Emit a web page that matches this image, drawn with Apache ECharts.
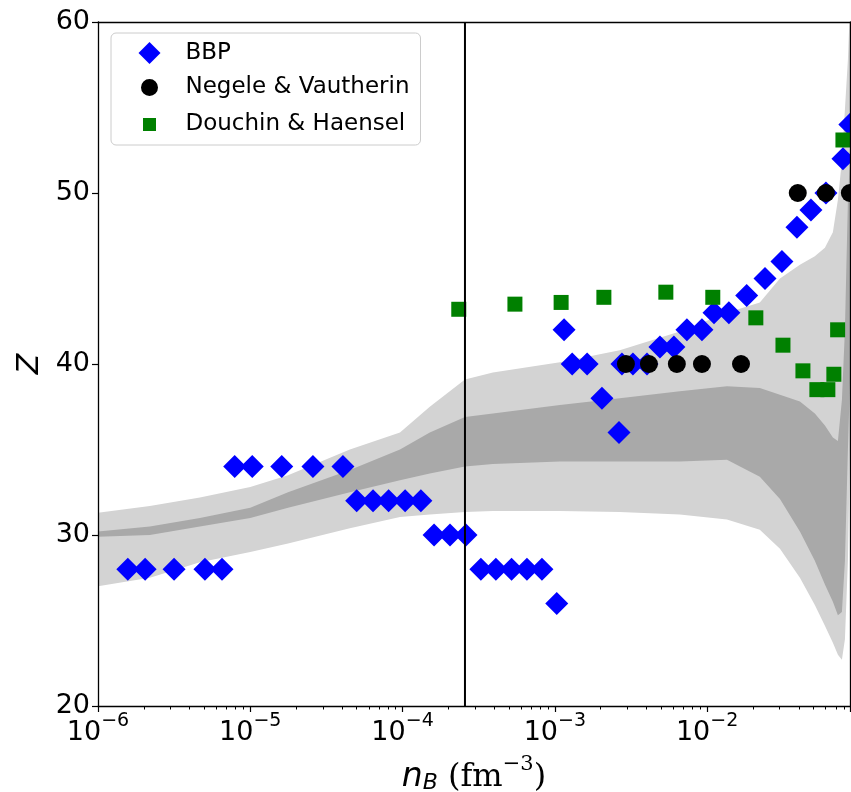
<!DOCTYPE html>
<html lang="en">
<head>
<meta charset="UTF-8">
<title>Z vs n_B</title>
<script src="https://cdn.jsdelivr.net/npm/echarts@6.0.0/dist/echarts.min.js"></script>
<style>
    html, body {margin: 0; padding: 0; background: #fff;}
    #chart {width: 851px; height: 792px;}
</style>
</head>
<body>
<div id="chart"></div>
<script>
    // BBP (blue diamonds)
    const bbpX = [1.57e-6, 2.04e-6, 3.16e-6, 5.04e-6, 6.52e-6,
        7.9e-6, 1.03e-5, 1.61e-5, 2.58e-5, 4.06e-5,
        5.0e-5, 6.4e-5, 8.1e-5, 1.04e-4, 1.32e-4,
        1.61e-4, 2.05e-4, 2.61e-4,
        3.27e-4, 4.1e-4, 5.2e-4, 6.56e-4, 8.23e-4,
        1.03e-3, 1.15e-3, 1.30e-3, 1.63e-3, 2.04e-3, 2.64e-3,
        2.76e-3, 3.26e-3, 4.03e-3, 4.9e-3, 6.05e-3, 7.37e-3, 9.25e-3,
        1.11e-2, 1.39e-2, 1.82e-2, 2.4e-2, 3.1e-2, 3.89e-2, 4.81e-2, 6.03e-2, 7.8e-2, 8.66e-2];
    const bbpZ = [28, 28, 28, 28, 28,
        34, 34, 34, 34, 34,
        32, 32, 32, 32, 32,
        30, 30, 30,
        28, 28, 28, 28, 28,
        26, 42, 40, 40, 38, 36,
        40, 40, 40, 41, 41, 42, 42,
        43, 43, 44, 45, 46, 48, 49, 50, 52, 54];

    // Negele & Vautherin (black circles)
    const nvX = [2.93e-3, 4.15e-3, 6.33e-3, 9.25e-3, 1.67e-2, 3.94e-2, 6.03e-2, 8.66e-2];
    const nvZ = [40, 40, 40, 40, 40, 50, 50, 50];

    // Douchin & Haensel (green squares)
    const dhX = [2.34e-4, 5.47e-4, 1.10e-3, 2.1e-3, 5.36e-3, 1.09e-2, 2.09e-2,
        3.15e-2, 4.26e-2, 5.26e-2, 6.21e-2, 6.8e-2, 7.2e-2, 7.8e-2];
    const dhZ = [43.2, 43.5, 43.6, 43.9, 44.2, 43.9, 42.7,
        41.1, 39.6, 38.5, 38.5, 39.4, 42.0, 53.1];

    // uncertainty bands
    const bandX = [1e-6, 2.19e-6, 4.67e-6, 1.0e-5, 1.77e-5, 4.51e-5, 9.62e-5, 1.51e-4, 2.57e-4,
        3.92e-4, 1.08e-3, 2.67e-3, 6.62e-3, 1.35e-2, 2.22e-2, 3.01e-2, 4.07e-2, 5.1e-2,
        5.94e-2, 6.7e-2, 7.23e-2, 7.68e-2, 8.04e-2, 8.41e-2, 8.68e-2];
    const outerHi = [31.3, 31.7, 32.2, 32.8, 33.5, 35.0, 36.0, 37.5, 39.1,
        39.5, 40.1, 40.8, 41.9, 43.0, 43.6, 45.0, 45.8, 46.3,
        46.8, 47.7, 49.6, 51.9, 54.9, 57.8, 61];
    const innerHi = [30.2, 30.5, 31.0, 31.6, 32.5, 33.8, 35.0, 36.0, 36.9,
        37.1, 37.6, 38.0, 38.4, 38.7, 38.6, 38.2, 37.8, 37.1,
        36.4, 35.7, 35.5, 37.9, 42.0, 49.6, 52];
    const innerLo = [29.9, 30.0, 30.5, 31.0, 31.6, 32.5, 33.2, 33.6, 34.0,
        34.15, 34.3, 34.3, 34.3, 34.4, 33.4, 32.1, 30.2, 28.5,
        27.1, 26.1, 25.3, 25.5, 28.5, 35.0, 39];
    const outerLo = [27.0, 27.5, 28.4, 29.0, 29.5, 30.4, 31.05, 31.2, 31.35,
        31.4, 31.4, 31.35, 31.2, 30.9, 30.3, 29.2, 27.5, 25.9,
        24.7, 23.7, 23.0, 22.7, 23.9, 28.5, 35];

    const dripLine = 2.57e-4;
    const xMin = 1e-6, xMax = 8.68e-2;
    const yMin = 20, yMax = 60, yStep = 10;

    function zip(xs, ys) {
        return xs.map(function (x, i) { return [x, ys[i]]; });
    }

    function bandRenderer(upper, lower, color) {
        return function (params, api) {
            if (params.dataIndex !== 0) return null;
            let pts = [];
            for (let i = 0; i < bandX.length; i++) pts.push(api.coord([bandX[i], upper[i]]));
            for (let i = bandX.length - 1; i >= 0; i--) pts.push(api.coord([bandX[i], lower[i]]));
            return {type: 'polygon', shape: {points: pts}, style: {fill: color}};
        };
    }

    function xLabel(v) {
        let e = Math.log10(v);
        let r = Math.round(e);
        if (Math.abs(e - r) > 1e-6) return '';
        return '{b|10}{s|' + (r < 0 ? '\u2212' + (-r) : r) + '}';
    }

    let myChart = echarts.init(document.getElementById('chart'));
    let option = {
        animation: false,
        backgroundColor: '#fff',
        grid: {left: 98, top: 22, right: 1, bottom: 86, show: false, outerBoundsMode: 'none', containLabel: false},
        legend: {
            orient: 'vertical',
            left: 111,
            top: 33,
            padding: [7, 11, 5, 23],
            itemWidth: 22,
            itemHeight: 22,
            itemGap: 8,
            borderColor: '#cccccc',
            borderWidth: 1,
            borderRadius: 5,
            backgroundColor: 'rgba(255,255,255,0.8)',
            textStyle: {fontFamily: 'DejaVu Sans', fontSize: 23, color: '#000', lineHeight: 26, padding: [0, 0, 0, 20]},
            data: [
                {name: 'BBP'},
                {name: 'Negele & Vautherin', itemStyle: {borderColor: '#ffffff', borderWidth: 5}},
                {name: 'Douchin & Haensel', itemStyle: {borderColor: '#ffffff', borderWidth: 9}}
            ]
        },
        xAxis: [{
            type: 'log',
            logBase: 10,
            min: xMin,
            max: xMax,
            z: 10,
            axisLine: {show: true, onZero: false, lineStyle: {color: '#000', width: 1.3}},
            axisTick: {show: true, length: 6, lineStyle: {color: '#000', width: 1.2}},
            minorTick: {show: true, splitNumber: 9, length: 3.5, lineStyle: {color: '#000', width: 1}},
            splitLine: {show: false},
            axisLabel: {
                margin: 6,
                formatter: xLabel,
                rich: {
                    b: {fontFamily: 'DejaVu Sans', fontSize: 27, color: '#000', lineHeight: 34, verticalAlign: 'bottom'},
                    s: {fontFamily: 'DejaVu Sans', fontSize: 19, color: '#000', lineHeight: 34, verticalAlign: 'top'}
                }
            },
            name: '{n|n}{sub|B}{t| (fm}{sup|\u22123}{t|)}',
            nameLocation: 'middle',
            nameGap: 48,
            nameTextStyle: {
                rich: {
                    n: {fontFamily: 'DejaVu Sans', fontStyle: 'italic', fontSize: 33, color: '#000', lineHeight: 40, verticalAlign: 'bottom'},
                    sub: {fontFamily: 'DejaVu Sans', fontStyle: 'italic', fontSize: 22, color: '#000', lineHeight: 32, verticalAlign: 'bottom'},
                    t: {fontFamily: 'DejaVu Serif', fontSize: 32, color: '#000', lineHeight: 40, verticalAlign: 'bottom'},
                    sup: {fontFamily: 'DejaVu Serif', fontSize: 21, color: '#000', lineHeight: 40, verticalAlign: 'top'}
                }
            }
        }, {
            type: 'log',
            logBase: 10,
            min: xMin,
            max: xMax,
            position: 'top',
            z: 10,
            axisLine: {show: true, onZero: false, lineStyle: {color: '#000', width: 1.3}},
            axisTick: {show: false},
            axisLabel: {show: false},
            splitLine: {show: false}
        }],
        yAxis: [{
            type: 'value',
            min: yMin,
            max: yMax,
            interval: yStep,
            z: 10,
            axisLine: {show: true, onZero: false, lineStyle: {color: '#000', width: 1.3}},
            axisTick: {show: true, length: 6, lineStyle: {color: '#000', width: 1.2}},
            splitLine: {show: false},
            axisLabel: {margin: 8, fontFamily: 'DejaVu Sans', fontSize: 27, color: '#000'},
            name: 'Z',
            nameLocation: 'middle',
            nameGap: 50,
            nameTextStyle: {fontFamily: 'DejaVu Sans', fontStyle: 'italic', fontSize: 30, color: '#000'}
        }, {
            type: 'value',
            min: yMin,
            max: yMax,
            interval: yStep,
            position: 'right',
            z: 10,
            axisLine: {show: true, onZero: false, lineStyle: {color: '#000', width: 1.3}},
            axisTick: {show: false},
            axisLabel: {show: false},
            splitLine: {show: false}
        }],
        series: [
            {
                type: 'custom',
                name: 'outer band',
                z: 1,
                clip: true,
                silent: true,
                renderItem: bandRenderer(outerHi, outerLo, '#d3d3d3'),
                encode: {x: 0, y: 1},
                data: zip(bandX, outerHi)
            },
            {
                type: 'custom',
                name: 'inner band',
                z: 1,
                clip: true,
                silent: true,
                renderItem: bandRenderer(innerHi, innerLo, '#a9a9a9'),
                encode: {x: 0, y: 1},
                data: zip(bandX, innerHi)
            },
            {
                type: 'scatter',
                name: 'BBP',
                z: 3,
                symbol: 'diamond',
                symbolSize: 23,
                itemStyle: {color: '#0000ff', opacity: 1},
                data: zip(bbpX, bbpZ)
            },
            {
                type: 'scatter',
                name: 'Negele & Vautherin',
                z: 4,
                symbol: 'circle',
                symbolSize: 18,
                itemStyle: {color: '#000000', opacity: 1},
                data: zip(nvX, nvZ)
            },
            {
                type: 'scatter',
                name: 'Douchin & Haensel',
                z: 5,
                symbol: 'rect',
                symbolSize: 15,
                itemStyle: {color: '#008000', opacity: 1},
                data: zip(dhX, dhZ)
            },
            {
                type: 'line',
                name: 'drip',
                z: 8,
                silent: true,
                symbol: 'none',
                lineStyle: {color: '#000', width: 2},
                data: [[dripLine, yMin], [dripLine, yMax]]
            }
        ]
    };
    myChart.setOption(option);
</script>
</body>
</html>
